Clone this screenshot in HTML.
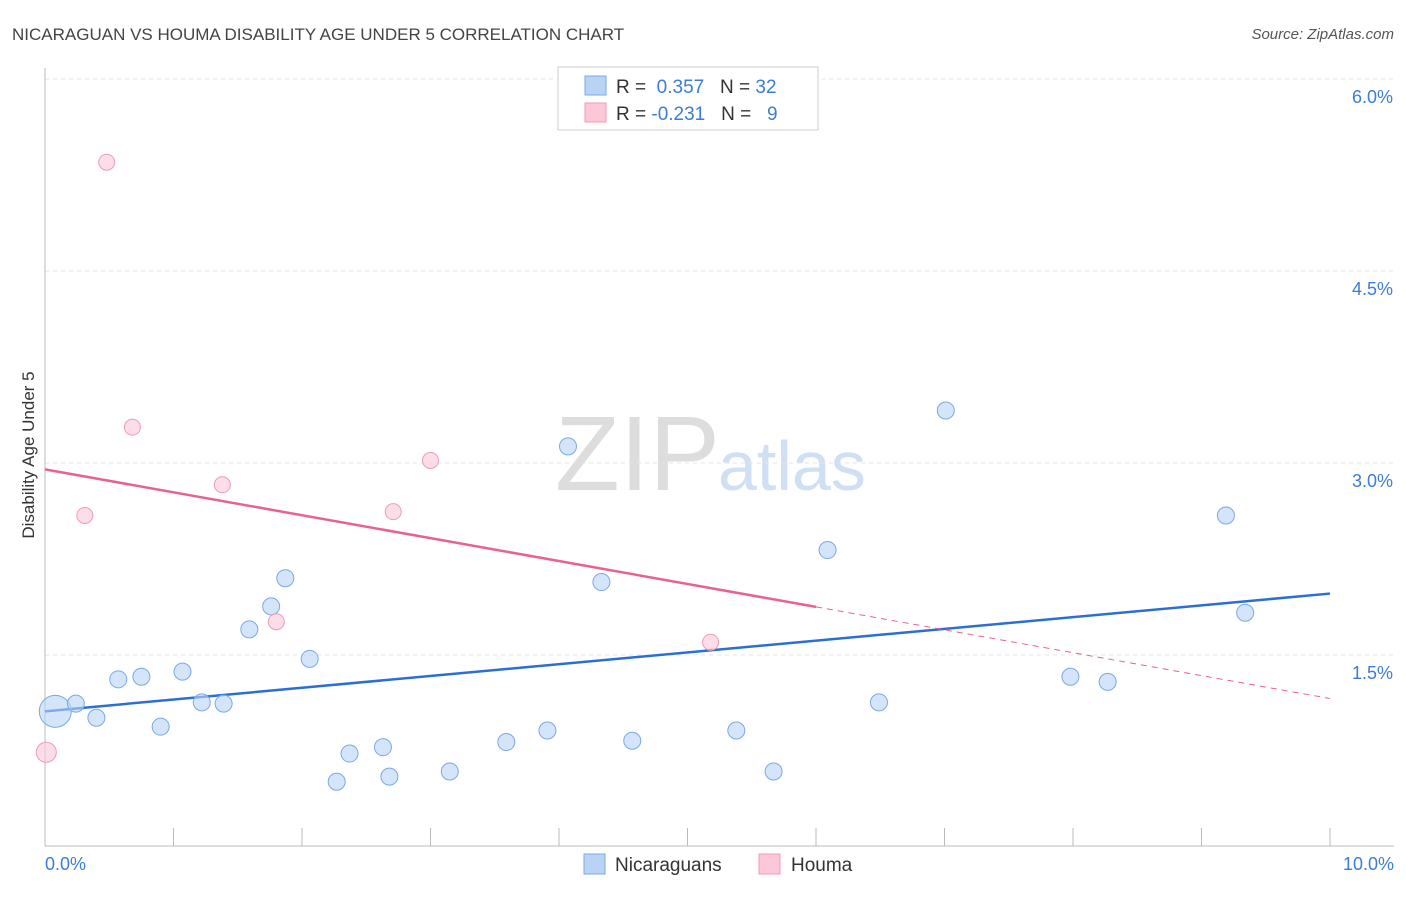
<!DOCTYPE html>
<html><head><meta charset="utf-8"><style>
body{margin:0;background:#fff;font-family:"Liberation Sans",sans-serif;}
svg text{font-family:"Liberation Sans",sans-serif;}
</style></head><body>
<svg width="1406" height="892" id="chart">
<text x="12" y="40" font-size="17" fill="#444">NICARAGUAN VS HOUMA DISABILITY AGE UNDER 5 CORRELATION CHART</text>
<text x="1394" y="39" font-size="15" fill="#555" font-style="italic" text-anchor="end">Source: ZipAtlas.com</text>
<text x="34" y="455" font-size="17" fill="#333" text-anchor="middle" transform="rotate(-90 34 455)">Disability Age Under 5</text>
<text x="555" y="490" font-size="106" fill="#ddd" font-family="Liberation Serif">ZIP</text>
<text x="718" y="490" font-size="70" fill="#cfe0f5">atlas</text>
<g id="grid"></g><g id="axes"></g><g id="lines"></g><g id="points"></g>
<g>
<rect x="558" y="67" width="260" height="63" fill="#fff" stroke="#ccc"/>
<rect x="585" y="76" width="21" height="19" fill="#b9d3f5" stroke="#7aa8e8"/>
<rect x="585" y="103" width="21" height="19" fill="#fcc8d8" stroke="#f09ab4"/>
<text x="616" y="93" font-size="19" fill="#333">R = <tspan fill="#3b7dd8">&#160;0.357</tspan>&#160;&#160;&#160;N = <tspan fill="#3b7dd8">32</tspan></text>
<text x="616" y="120" font-size="19" fill="#333">R = <tspan fill="#3b7dd8">-0.231</tspan>&#160;&#160;&#160;N = <tspan fill="#3b7dd8">&#160;&#160;9</tspan></text>
</g>
<g>
<rect x="584" y="854" width="21" height="20" fill="#b9d3f5" stroke="#7aa8e8"/>
<text x="615" y="871" font-size="19" fill="#333">Nicaraguans</text>
<rect x="759" y="854" width="21" height="20" fill="#fcc8d8" stroke="#f09ab4"/>
<text x="791" y="871" font-size="19" fill="#333">Houma</text>
</g>
</svg>
<script>
const yTicks=[1.5,3.0,4.5,6.0];
const xTickLabels=["0.0%","10.0%"];
const blueX=[0.08,0.24,0.40,0.57,0.75,0.90,1.07,1.22,1.39,1.59,1.76,1.87,2.06,2.27,2.37,2.63,2.68,3.15,3.59,3.91,4.07,4.33,4.57,5.38,5.67,6.09,6.49,7.01,7.98,8.27,9.19,9.34];
const blueY=[1.06,1.12,1.01,1.31,1.33,0.94,1.37,1.13,1.12,1.70,1.88,2.10,1.47,0.51,0.73,0.78,0.55,0.59,0.82,0.91,3.13,2.07,0.83,0.91,0.59,2.32,1.13,3.41,1.33,1.29,2.59,1.83];
const pinkX=[0.01,0.31,0.48,0.68,1.38,1.80,2.71,3.00,5.18];
const pinkY=[0.74,2.59,5.35,3.28,2.83,1.76,2.62,3.02,1.60];
const blueTrend=[1.06,1.98];
const pinkTrend=[2.95,1.16];
const pinkSolidEnd=6.0;
const NS="http://www.w3.org/2000/svg";
const sx=v=>45+v*128.5, sy=v=>847-v*128;
function mk(tag,attrs,parent){const e=document.createElementNS(NS,tag);for(const k in attrs)e.setAttribute(k,attrs[k]);document.getElementById(parent).appendChild(e);return e;}
yTicks.forEach(t=>{
 const g=mk('line',{x1:45,x2:1394,y1:sy(t),y2:sy(t),stroke:'#e4e4e4','stroke-dasharray':'4,4'},'grid');
 
 
 const l=mk('text',{x:1393,y:sy(t)+24,'font-size':18,fill:'#3b7dd8','text-anchor':'end'},'grid');l.textContent=t.toFixed(1)+'%';
 
 
});
let a=mk('line',{x1:45,x2:45,y1:68,y2:846,stroke:'#bbb'},'axes');


a=mk('line',{x1:45,x2:1394,y1:846,y2:846,stroke:'#bbb'},'axes');


for(let i=1;i<=10;i++){const t=mk('line',{x1:sx(i),x2:sx(i),y1:828,y2:846,stroke:'#bbb'},'axes');
 
 }
let xl=mk('text',{x:45,y:870,'font-size':18,fill:'#3b7dd8'},'axes');xl.textContent=xTickLabels[0];


xl=mk('text',{x:1394,y:870,'font-size':18,fill:'#3b7dd8','text-anchor':'end'},'axes');xl.textContent=xTickLabels[1];


blueX.forEach((x,i)=>{const c=mk('circle',{cx:sx(x),cy:sy(blueY[i]),r:i===0?16:8.5,fill:'rgba(185,211,245,0.6)',stroke:'#7aa8e8','stroke-width':1},'points');
 
 });
pinkX.forEach((x,i)=>{const c=mk('circle',{cx:sx(x),cy:sy(pinkY[i]),r:i===0?10:8,fill:'rgba(252,200,216,0.6)',stroke:'#f09ab4','stroke-width':1},'points');
 
 });
let ln=mk('line',{x1:sx(0),y1:sy(blueTrend[0]),x2:sx(10),y2:sy(blueTrend[1]),stroke:'#2b6fd6','stroke-width':2.5},'lines');


const pAt=x=>pinkTrend[0]+(pinkTrend[1]-pinkTrend[0])*x/10;
ln=mk('line',{x1:sx(0),y1:sy(pAt(0)),x2:sx(pinkSolidEnd),y2:sy(pAt(pinkSolidEnd)),stroke:'#e8638c','stroke-width':2.5},'lines');


ln=mk('line',{x1:sx(pinkSolidEnd),y1:sy(pAt(pinkSolidEnd)),x2:sx(10),y2:sy(pAt(10)),stroke:'#e8638c','stroke-width':1,'stroke-dasharray':'6,5'},'lines');


</script>
</body></html>
